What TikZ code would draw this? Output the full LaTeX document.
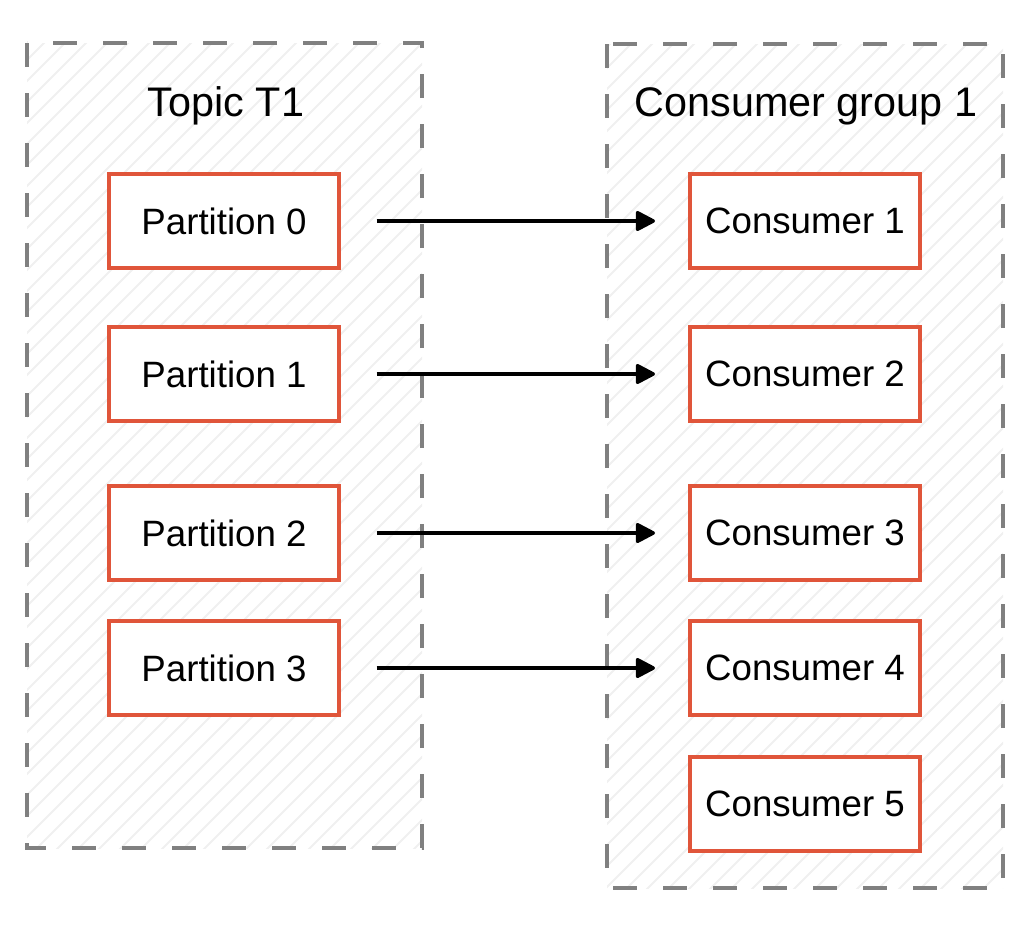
\documentclass[tikz,border=0pt]{standalone}
\usepackage{fontspec}
\setmainfont{Liberation Sans}
\usetikzlibrary{arrows.meta}
\usetikzlibrary{positioning}
\definecolor{boxred}{HTML}{E0553A}
\definecolor{dashgray}{HTML}{808080}
\definecolor{hatchgray}{HTML}{F0F0F0}
\begin{document}
\begin{tikzpicture}[x=0.75pt,y=-0.75pt,
    part/.style={draw=boxred,line width=3pt,fill=white,minimum width=172pt,minimum height=70.5pt,inner sep=0pt,font=\fontsize{27.5}{33}\selectfont},
    group/.style={draw=dashgray,line width=2.8pt,dash pattern=on 18pt off 19.5pt},
    hatch/.style={hatchgray,line width=1.5pt},
    flow/.style={-{Triangle[length=16pt,width=16pt,round]},line width=2.6pt,shorten <=27pt,shorten >=25pt}]
    \useasboundingbox (0,0) rectangle (1030,932);
    % hatched backgrounds of the two groups
    \foreach \xa/\ya/\xb/\yb in {27/43/422/848,607/44/1003/888}{
      \begin{scope}
        \clip (\xa,\ya) rectangle (\xb,\yb);
        \foreach \i in {-950,-929,...,1030}
          \draw[hatch] (\i,932) -- ++(932,-932);
      \end{scope}
      \draw[group] (\xa,\ya) rectangle (\xb,\yb);
    }
    \node[font=\fontsize{31}{37}\selectfont] (topic) at (226,106) {Topic T1};
    \node[font=\fontsize{31}{37}\selectfont] (cgroup) at (806,106) {Consumer group 1};
    \foreach \n/\y in {0/221,1/374,2/533,3/668}{
      \node[part] (p\n) at (224,\y) {Partition \n};
    }
    \foreach \n/\y in {1/221,2/374,3/533,4/668,5/804}{
      \node[part] (c\n) at (805,\y) {Consumer \n};
    }
    \foreach \n [count=\m] in {0,1,2,3}{
      \draw[flow] (p\n) -- (c\m);
    }
\end{tikzpicture}
\end{document}
